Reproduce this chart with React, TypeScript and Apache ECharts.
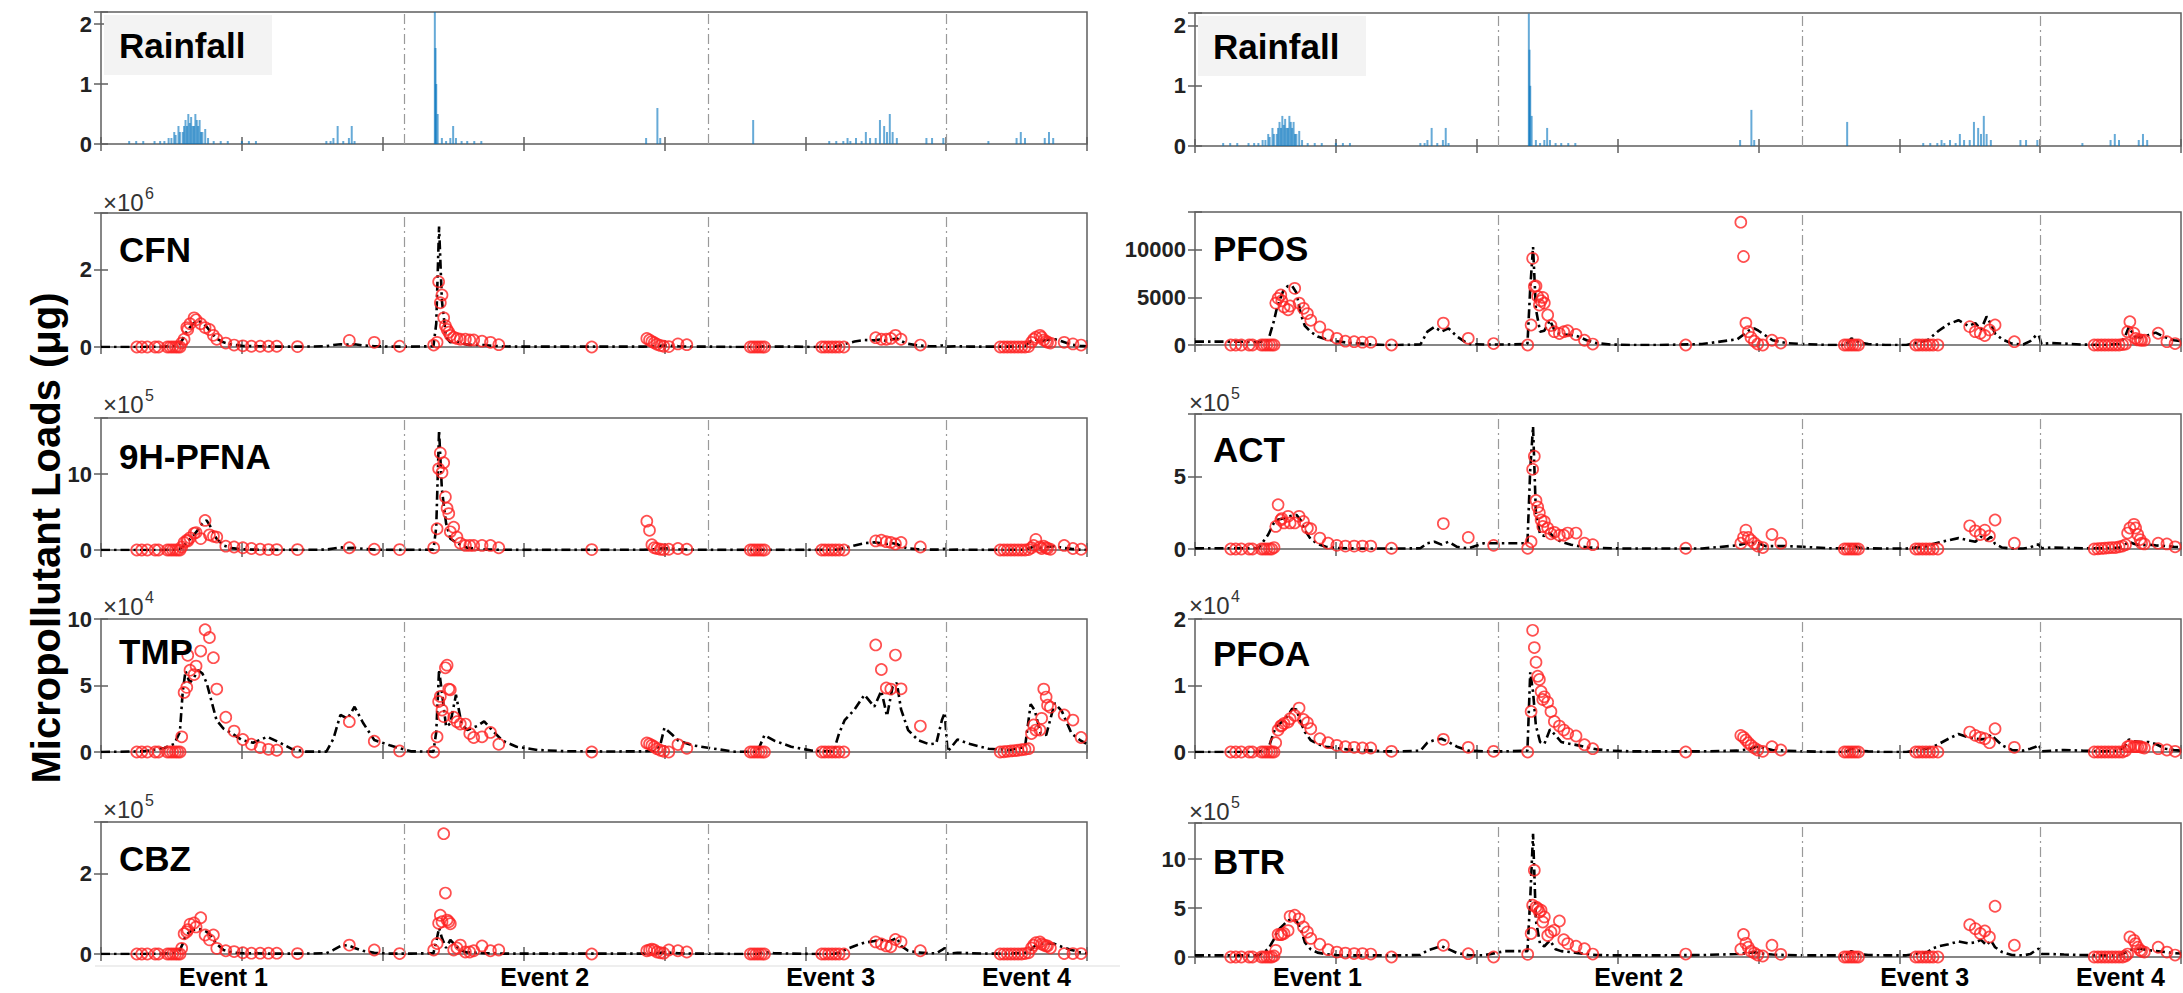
import React, { useEffect, useRef } from 'react';
import * as echarts from 'echarts';

// ---------------- DATA ----------------
const EVENT_LABELS = ['Event 1', 'Event 2', 'Event 3', 'Event 4'];
const EVENT_POS = [0.87, 3.15, 5.18, 6.57];
const EVENT_DIVIDERS = [2.15, 4.31, 6.0];

const RAIN_T = [0.2, 0.25, 0.3, 0.38, 0.42, 0.45, 0.48, 0.5, 0.52, 0.53, 0.55, 0.56, 0.58, 0.59, 0.6, 0.61, 0.62, 0.63, 0.64, 0.65, 0.66, 0.67, 0.68, 0.69, 0.7, 0.71, 0.72, 0.74, 0.76, 0.8, 0.85, 0.9, 1.0, 1.05, 1.1, 1.6, 1.63, 1.65, 1.68, 1.72, 1.76, 1.78, 1.8, 2.37, 2.375, 2.38, 2.39, 2.42, 2.45, 2.48, 2.5, 2.52, 2.56, 2.6, 2.65, 2.7, 3.87, 3.95, 3.97, 4.63, 5.17, 5.22, 5.27, 5.3, 5.32, 5.36, 5.4, 5.43, 5.46, 5.5, 5.53, 5.56, 5.58, 5.6, 5.62, 5.65, 5.86, 5.9, 5.98, 6.3, 6.5, 6.53, 6.56, 6.7, 6.73, 6.76];
const RAIN_V = [0.05, 0.05, 0.05, 0.05, 0.05, 0.05, 0.1, 0.1, 0.2, 0.15, 0.3, 0.2, 0.2, 0.3, 0.4, 0.3, 0.5, 0.35, 0.45, 0.3, 0.3, 0.5, 0.4, 0.3, 0.4, 0.2, 0.2, 0.25, 0.1, 0.05, 0.05, 0.05, 0.05, 0.05, 0.05, 0.05, 0.05, 0.1, 0.3, 0.05, 0.1, 0.3, 0.05, 2.2, 1.6, 1.0, 0.5, 0.1, 0.05, 0.1, 0.3, 0.1, 0.05, 0.05, 0.05, 0.05, 0.1, 0.6, 0.1, 0.4, 0.05, 0.05, 0.05, 0.1, 0.05, 0.1, 0.05, 0.2, 0.1, 0.1, 0.4, 0.3, 0.2, 0.5, 0.2, 0.1, 0.1, 0.1, 0.1, 0.05, 0.1, 0.2, 0.1, 0.1, 0.2, 0.1];

// observation (sample) times, shared by all pollutants
const OBS_T = [
  0.254, 0.289, 0.329, 0.384, 0.408, 0.471, 0.49, 0.509, 0.528, 0.545,
  0.561, 0.573, 0.59, 0.609, 0.616, 0.632, 0.661, 0.675, 0.708, 0.739,
  0.77, 0.798, 0.822, 0.886, 0.945, 1.007, 1.068, 1.13, 1.189, 1.248,
  1.395, 1.763, 1.94, 2.12, 2.362, 2.386, 2.397, 2.409, 2.421, 2.433,
  2.445, 2.457, 2.469, 2.48, 2.504, 2.527, 2.551, 2.587, 2.618, 2.646,
  2.705, 2.765, 2.824, 3.484, 3.875, 3.894, 3.911, 3.928, 3.947, 3.971,
  3.995, 4.031, 4.096, 4.159, 4.61, 4.63, 4.65, 4.67, 4.69, 4.71,
  5.117, 5.14, 5.165, 5.19, 5.215, 5.24, 5.274, 5.5, 5.54, 5.575,
  5.607, 5.64, 5.68, 5.817, 6.384, 6.41, 6.435, 6.46, 6.485, 6.51,
  6.535, 6.56, 6.585, 6.606, 6.621, 6.637, 6.666, 6.678, 6.693, 6.71,
  6.72, 6.74, 6.838, 6.9, 6.958,
];

// model time grid, shared by all pollutants
const MODEL_T = [
  0, 0.3, 0.45, 0.52, 0.56, 0.58, 0.6, 0.63, 0.66, 0.69,
  0.72, 0.75, 0.78, 0.82, 0.87, 0.93, 1.0, 1.08, 1.18, 1.26,
  1.35, 1.45, 1.6, 1.65, 1.7, 1.75, 1.8, 1.86, 1.94, 2.05,
  2.2, 2.36, 2.38, 2.4, 2.42, 2.45, 2.48, 2.52, 2.56, 2.6,
  2.67, 2.72, 2.78, 2.85, 2.95, 3.1, 3.3, 3.6, 3.85, 3.93,
  3.97, 4.0, 4.05, 4.1, 4.2, 4.32, 4.5, 4.62, 4.66, 4.71,
  4.78, 4.9, 5.05, 5.2, 5.24, 5.28, 5.35, 5.42, 5.49, 5.54,
  5.58, 5.62, 5.65, 5.68, 5.73, 5.8, 5.88, 5.93, 5.97, 5.99,
  6.01, 6.08, 6.17, 6.3, 6.45, 6.56, 6.6, 6.63, 6.67, 6.71,
  6.77, 6.82, 6.89, 6.95, 7.0,
];

// CFN (x10^6)
const CFN_OBS = [
  0, 0, 0, 0, 0, 0, 0, 0, 0, 0,
  0, 0.1, 0.2, 0.5, 0.45, 0.6, 0.75, 0.7, 0.6, 0.5,
  0.45, 0.3, 0.2, 0.1, 0.05, 0.03, 0.02, 0.02, 0.02, 0.02,
  0.01, 0.17, 0.12, 0.02, 0.05, 0.12, 1.68, 1.14, 1.34, 0.75,
  0.55, 0.45, 0.38, 0.3, 0.25, 0.22, 0.2, 0.2, 0.18, 0.18,
  0.15, 0.12, 0.06, 0, 0.22, 0.18, 0.14, 0.11, 0.07, 0.04,
  0.02, 0.01, 0.08, 0.06, 0, 0, 0, 0, 0, 0,
  0, 0, 0, 0, 0, 0, 0, 0.24, 0.2, 0.2,
  0.22, 0.3, 0.2, 0.05, 0, 0, 0, 0, 0, 0,
  0, 0, 0.01, 0.12, 0.2, 0.25, 0.3, 0.25, 0.18, 0.15,
  0.12, 0.1, 0.12, 0.08, 0.05,
];
const CFN_MOD = [
  0, 0, 0.01, 0.03, 0.08, 0.2, 0.35, 0.5, 0.62, 0.68,
  0.62, 0.52, 0.38, 0.22, 0.12, 0.06, 0.03, 0.02, 0.02, 0.01,
  0.01, 0.01, 0.02, 0.05, 0.07, 0.06, 0.07, 0.04, 0.02, 0.01,
  0.01, 0.02, 0.6, 3.1, 1.2, 0.25, 0.12, 0.15, 0.1, 0.06,
  0.05, 0.05, 0.03, 0.02, 0.01, 0.01, 0.01, 0.01, 0.01, 0.02,
  0.03, 0.04, 0.03, 0.02, 0.01, 0.01, 0, 0, 0, 0.02,
  0.01, 0.01, 0, 0, 0.03, 0.08, 0.14, 0.18, 0.17, 0.2,
  0.15, 0.2, 0.22, 0.15, 0.08, 0.04, 0.02, 0.02, 0.04, 0.05,
  0.01, 0.02, 0.01, 0.01, 0.01, 0.03, 0.15, 0.2, 0.15, 0.18,
  0.2, 0.15, 0.06, 0.03, 0.02,
];

// 9H-PFNA (x10^5)
const PFNA_OBS = [
  0, 0, 0, 0, 0, 0, 0, 0, 0, 0,
  0, 0.4, 1.0, 1.3, 1.2, 1.6, 2.2, 2.3, 1.5, 3.9,
  2.0, 1.8, 1.7, 0.5, 0.4, 0.3, 0.2, 0.1, 0.05, 0.05,
  0.05, 0.3, 0.1, 0.05, 0.3, 2.8, 10.7, 12.8, 10.2, 11.5,
  7.0, 5.5, 4.8, 2.4, 3.0, 1.7, 0.9, 0.6, 0.6, 0.6,
  0.6, 0.6, 0.3, 0.05, 3.8, 2.6, 0.7, 0.3, 0.2, 0.1,
  0.05, 0.1, 0.2, 0.1, 0, 0, 0, 0, 0, 0,
  0, 0, 0, 0, 0, 0, 0, 1.2, 1.3, 1.1,
  1.0, 0.8, 1.0, 0.4, 0, 0, 0, 0, 0, 0,
  0, 0, 0.05, 0.3, 0.6, 1.4, 0.4, 0.2, 0.5, 0.3,
  0.2, 0.1, 0.6, 0.2, 0.1,
];
const PFNA_MOD = [
  0, 0, 0.01, 0.05, 0.2, 0.4, 0.8, 1.4, 2.0, 2.7,
  3.5, 3.9, 3.0, 1.5, 0.6, 0.25, 0.1, 0.05, 0.03, 0.02,
  0.02, 0.02, 0.05, 0.2, 0.35, 0.25, 0.3, 0.15, 0.05, 0.02,
  0.02, 0.05, 3.0, 15.8, 8.0, 3.5, 1.5, 1.0, 0.6, 0.3,
  0.15, 0.1, 0.05, 0.03, 0.02, 0.02, 0.02, 0.02, 0.03, 0.1,
  0.2, 0.25, 0.15, 0.1, 0.05, 0.02, 0.01, 0.01, 0.01, 0.03,
  0.02, 0.01, 0.01, 0.01, 0.1, 0.3, 0.6, 0.9, 1.0, 0.9,
  0.8, 0.9, 0.8, 0.5, 0.2, 0.1, 0.05, 0.05, 0.1, 0.15,
  0.02, 0.05, 0.03, 0.02, 0.02, 0.05, 0.3, 0.5, 0.3, 0.4,
  0.5, 0.3, 0.15, 0.05, 0.03,
];

// TMP (x10^4)
const TMP_OBS = [
  0, 0, 0, 0, 0, 0, 0, 0, 0, 0,
  0, 1.14, 4.48, 4.86, 7.27, 6.15, 5.82, 6.46, 7.59, 9.19,
  8.61, 7.09, 4.73, 2.61, 1.57, 0.94, 0.58, 0.33, 0.2, 0.13,
  0, 2.28, 0.81, 0.08, 0, 1.14, 3.8, 4.18, 3.16, 2.66,
  6.33, 6.53, 4.73, 4.68, 2.61, 2.28, 2.1, 2.1, 1.39, 1.09,
  1.14, 1.47, 0.58, 0, 0.68, 0.6, 0.5, 0.4, 0.25, 0.13,
  0.05, 0, 0.56, 0.28, 0, 0, 0, 0, 0, 0,
  0, 0, 0, 0, 0, 0, 0, 8.05, 6.2, 4.81,
  4.73, 7.29, 4.75, 1.95, 0, 0.02, 0.05, 0.08, 0.1, 0.13,
  0.17, 0.2, 0.25, 1.39, 2.03, 1.65, 1.65, 2.53, 4.73, 4.13,
  3.52, 3.37, 2.78, 2.4, 1.09,
];
const TMP_MOD = [
  0, 0.05, 0.3, 0.6, 1.5, 4.5, 6.1, 5.2, 5.6, 6.15,
  5.9, 5.2, 4.0, 2.4, 1.75, 1.4, 0.9, 0.7, 1.14, 0.75,
  0.25, 0.03, 0.03, 1.0, 2.8, 2.5, 3.4, 2.2, 0.9, 0.5,
  0.05, 0.03, 1.5, 6.2, 4.5, 1.9, 2.15, 4.3, 2.1, 1.65,
  1.95, 2.3, 1.6, 0.85, 0.4, 0.15, 0.06, 0.04, 0.05, 0.08,
  0.5, 1.82, 1.35, 0.85, 0.5, 0.3, 0.02, 0.02, 0.02, 1.27,
  0.85, 0.4, 0.1, 0.03, 1.4, 2.4, 3.2, 4.3, 3.4, 4.6,
  2.7, 4.9, 5.2, 3.2, 1.65, 0.9, 0.58, 0.65, 2.4, 2.96,
  0.02, 0.94, 0.6, 0.25, 0.15, 0.38, 3.6, 3.1, 1.39, 1.27,
  3.67, 3.1, 1.4, 0.9, 0.6,
];

// CBZ (x10^5)
const CBZ_OBS = [
  0, 0, 0, 0, 0, 0, 0, 0, 0, 0,
  0, 0.14, 0.5, 0.55, 0.6, 0.74, 0.77, 0.67, 0.9, 0.47,
  0.35, 0.47, 0.14, 0.08, 0.06, 0.03, 0.02, 0.02, 0.02, 0.02,
  0.01, 0.22, 0.1, 0.01, 0.1, 0.26, 0.76, 0.96, 0.8, 2.98,
  1.51, 0.84, 0.8, 0.75, 0.1, 0.15, 0.22, 0.05, 0.05, 0.08,
  0.2, 0.08, 0.1, 0, 0.08, 0.1, 0.12, 0.1, 0.05, 0.03,
  0.02, 0.1, 0.08, 0.05, 0, 0, 0, 0, 0, 0,
  0, 0, 0, 0, 0, 0, 0, 0.3, 0.25, 0.2,
  0.18, 0.36, 0.3, 0.08, 0, 0, 0, 0, 0, 0,
  0, 0.01, 0.03, 0.15, 0.22, 0.28, 0.3, 0.25, 0.22, 0.2,
  0.2, 0.15, 0.01, 0.01, 0.01,
];
const CBZ_MOD = [
  0, 0, 0.01, 0.03, 0.1, 0.25, 0.45, 0.55, 0.6, 0.62,
  0.6, 0.55, 0.45, 0.25, 0.1, 0.04, 0.02, 0.02, 0.01, 0.01,
  0.01, 0.01, 0.02, 0.1, 0.2, 0.22, 0.15, 0.08, 0.03, 0.01,
  0.01, 0.02, 0.3, 0.65, 0.4, 0.15, 0.35, 0.2, 0.08, 0.04,
  0.03, 0.02, 0.02, 0.01, 0.01, 0.01, 0.01, 0.01, 0.01, 0.02,
  0.03, 0.04, 0.03, 0.02, 0.01, 0.01, 0, 0, 0, 0.05,
  0.02, 0.01, 0, 0, 0.03, 0.1, 0.2, 0.28, 0.32, 0.35,
  0.3, 0.35, 0.4, 0.2, 0.08, 0.04, 0.02, 0.02, 0.1, 0.15,
  0.01, 0.03, 0.02, 0.01, 0.01, 0.03, 0.1, 0.2, 0.25, 0.27,
  0.25, 0.18, 0.1, 0.04, 0.02,
];

// PFOS
const PFOS_OBS = [
  0, 0, 0, 0, 0, 0, 0, 0, 0, 0,
  0, 4400, 4900, 5250, 4650, 4000, 3700, 4100, 5950, 4400,
  3850, 3300, 2600, 1900, 1050, 700, 400, 350, 300, 300,
  0, 2300, 700, 150, 0, 2100, 9100, 6150, 6200, 5100,
  4200, 4650, 5000, 4400, 3150, 2050, 1400, 1200, 1400, 1500,
  1100, 500, 100, 0, 12900, 9300, 2300, 1400, 800, 400,
  100, 0, 500, 200, 0, 0, 0, 0, 0, 0,
  0, 0, 0, 0, 0, 0, 0, 1930, 1400, 1230,
  1000, 1580, 2100, 350, 0, 0, 0, 0, 0, 0,
  0, 0, 50, 100, 1400, 2450, 1230, 700, 530, 530,
  500, 500, 1230, 350, 150,
];
const PFOS_MOD = [
  350, 350, 300, 500, 2500, 3800, 4700, 5800, 6200, 6200,
  5500, 3300, 2000, 1400, 900, 600, 400, 250, 150, 50,
  0, 0, 50, 1400, 1900, 1400, 1750, 900, 100, 50,
  50, 100, 6000, 10300, 3800, 1400, 1500, 2600, 1300, 1100,
  1050, 900, 500, 200, 50, 0, 0, 100, 600, 1500,
  1750, 1500, 1000, 500, 200, 100, 0, 0, 700, 300,
  100, 0, 0, 500, 1000, 1500, 2200, 2600, 2000, 2300,
  1600, 3000, 2200, 1200, 600, 150, 50, 400, 1000, 1050,
  100, 200, 150, 50, 0, 100, 800, 1900, 900, 800,
  1050, 1300, 800, 500, 400,
];

// ACT (x10^5)
const ACT_OBS = [
  0, 0, 0, 0, 0, 0, 0, 0, 0, 0,
  0.1, 1.56, 3.05, 2.0, 2.1, 1.8, 2.25, 1.8, 1.8, 2.25,
  1.9, 1.45, 1.4, 0.75, 0.4, 0.25, 0.2, 0.2, 0.2, 0.2,
  0.05, 1.75, 0.8, 0.25, 0.05, 0.5, 5.5, 6.4, 3.35, 2.9,
  2.5, 2.0, 1.55, 1.9, 1.45, 1.05, 1.15, 0.95, 0.95, 1.1,
  1.1, 0.4, 0.3, 0.05, 0.4, 0.8, 1.3, 0.8, 0.6, 0.4,
  0.2, 0.1, 1.0, 0.4, 0, 0, 0, 0, 0, 0,
  0, 0, 0, 0, 0, 0, 0, 1.6, 1.25, 1.0,
  1.3, 0.9, 2.0, 0.4, 0, 0.02, 0.04, 0.06, 0.08, 0.1,
  0.1, 0.15, 0.2, 0.3, 1.1, 1.45, 1.7, 1.45, 1.0, 0.65,
  0.4, 0.35, 0.4, 0.35, 0.15,
];
const ACT_MOD = [
  0.05, 0.05, 0.05, 1.0, 1.8, 2.0, 2.05, 2.1, 2.25, 2.3,
  2.35, 2.0, 1.3, 0.7, 0.35, 0.15, 0.08, 0.05, 0.03, 0.03,
  0.03, 0.03, 0.05, 0.4, 0.5, 0.3, 0.5, 0.15, 0.05, 0.4,
  0.4, 0.4, 5.5, 8.45, 2.5, 1.0, 0.9, 1.1, 0.7, 0.5,
  0.3, 0.2, 0.12, 0.08, 0.05, 0.03, 0.03, 0.03, 0.25, 0.45,
  0.4, 0.4, 0.2, 0.2, 0.2, 0.15, 0.05, 0.05, 0.3, 0.1,
  0.05, 0.03, 0.03, 0.2, 0.35, 0.45, 0.6, 0.75, 0.6, 0.5,
  0.85, 0.6, 0.85, 0.35, 0.1, 0.03, 0.03, 0.1, 0.3, 0.3,
  0.05, 0.1, 0.08, 0.05, 0.05, 0.1, 0.3, 0.5, 0.35, 0.25,
  0.3, 0.25, 0.2, 0.15, 0.12,
];

// PFOA (x10^4)
const PFOA_OBS = [
  0, 0, 0, 0, 0, 0, 0, 0, 0, 0,
  0, 0.14, 0.33, 0.39, 0.4, 0.43, 0.45, 0.5, 0.55, 0.66,
  0.49, 0.44, 0.35, 0.2, 0.14, 0.1, 0.08, 0.07, 0.06, 0.06,
  0.01, 0.19, 0.07, 0.01, 0, 0.61, 1.83, 1.57, 1.35, 1.14,
  1.09, 0.91, 0.79, 0.83, 0.75, 0.61, 0.46, 0.39, 0.33, 0.28,
  0.24, 0.11, 0.05, 0, 0.25, 0.22, 0.18, 0.14, 0.1, 0.06,
  0.03, 0.01, 0.08, 0.03, 0, 0, 0, 0, 0, 0,
  0, 0, 0, 0, 0, 0, 0, 0.3, 0.25, 0.22,
  0.2, 0.14, 0.35, 0.07, 0, 0, 0, 0, 0, 0,
  0, 0, 0, 0.02, 0.08, 0.09, 0.08, 0.08, 0.08, 0.08,
  0.07, 0.06, 0.05, 0.03, 0.01,
];
const PFOA_MOD = [
  0, 0, 0, 0.05, 0.3, 0.39, 0.42, 0.48, 0.55, 0.65,
  0.64, 0.45, 0.3, 0.18, 0.12, 0.08, 0.06, 0.04, 0.03, 0.02,
  0.01, 0.01, 0.02, 0.14, 0.18, 0.2, 0.15, 0.08, 0.02, 0.01,
  0.01, 0.02, 1.2, 0.9, 0.4, 0.15, 0.12, 0.34, 0.25, 0.15,
  0.12, 0.1, 0.07, 0.04, 0.02, 0.01, 0.01, 0.01, 0.02, 0.04,
  0.07, 0.085, 0.05, 0.03, 0.02, 0.01, 0, 0, 0.05, 0.02,
  0.01, 0, 0, 0.05, 0.08, 0.12, 0.2, 0.27, 0.22, 0.2,
  0.19, 0.2, 0.26, 0.2, 0.1, 0.03, 0.02, 0.05, 0.08, 0.11,
  0.01, 0.02, 0.03, 0.02, 0.01, 0.02, 0.08, 0.19, 0.16, 0.15,
  0.15, 0.12, 0.05, 0.03, 0.02,
];

// BTR (x10^5)
const BTR_OBS = [
  0, 0, 0, 0, 0, 0, 0, 0, 0, 0,
  0.1, 0.68, 2.3, 2.3, 2.3, 2.4, 2.7, 4.16, 4.27, 3.9,
  3.07, 2.56, 1.9, 1.3, 0.75, 0.5, 0.4, 0.35, 0.35, 0.3,
  0, 1.2, 0.34, 0, 0.27, 2.4, 5.3, 8.87, 5.1, 4.95,
  4.6, 4.78, 3.58, 4.1, 2.2, 2.56, 2.73, 3.68, 1.77, 1.37,
  1.1, 0.85, 0.3, 0.3, 0.8, 2.3, 1.4, 1.0, 0.6, 0.4,
  0.2, 0.1, 1.2, 0.27, 0, 0, 0, 0, 0, 0,
  0, 0, 0, 0, 0, 0, 0, 3.3, 2.9, 2.4,
  2.66, 2.05, 5.19, 1.2, 0, 0, 0, 0, 0, 0,
  0, 0, 0, 0.1, 0.3, 2.05, 1.7, 1.37, 1.0, 0.7,
  0.6, 0.5, 1.0, 0.5, 0.2,
];
const BTR_MOD = [
  0.17, 0.17, 0.17, 0.8, 1.8, 2.5, 2.9, 3.3, 3.75, 3.85,
  3.7, 2.9, 1.5, 0.8, 0.45, 0.3, 0.2, 0.17, 0.17, 0.17,
  0.17, 0.17, 0.2, 0.68, 0.9, 1.1, 0.8, 0.4, 0.2, 0.17,
  0.6, 0.6, 6.0, 12.6, 3.75, 1.3, 1.1, 1.7, 0.8, 0.6,
  0.5, 0.4, 0.3, 0.2, 0.17, 0.17, 0.17, 0.2, 0.3, 0.4,
  0.5, 0.4, 0.3, 0.25, 0.2, 0.17, 0.17, 0.17, 0.6, 0.3,
  0.2, 0.17, 0.17, 0.5, 0.9, 1.1, 1.3, 1.6, 1.4, 1.5,
  1.75, 1.2, 1.7, 1.0, 0.5, 0.2, 0.17, 0.3, 0.7, 0.85,
  0.3, 0.3, 0.25, 0.2, 0.17, 0.2, 0.4, 0.68, 0.8, 0.85,
  0.7, 0.6, 0.5, 0.4, 0.35,
];

// ---------------- LAYOUT ----------------
const FONT = '"Liberation Sans", Arial, Helvetica, sans-serif';
const COLS = [
  { left: 101, width: 986 },
  { left: 1195, width: 986 },
];

type Panel = {
  label: string; col: number; top: number; height: number; max: number; interval: number;
  exp?: string; obs?: number[]; mod?: number[]; rain?: boolean; labelY: number; expY?: number;
};

const PANELS: Panel[] = [
  { label: 'Rainfall', col: 0, top: 12, height: 132, max: 2.2, interval: 1, rain: true, labelY: 45 },
  { label: 'CFN', col: 0, top: 213, height: 134, max: 3.45, interval: 2, exp: '6', obs: CFN_OBS, mod: CFN_MOD, labelY: 249, expY: 202 },
  { label: '9H-PFNA', col: 0, top: 418, height: 132, max: 17.4, interval: 10, exp: '5', obs: PFNA_OBS, mod: PFNA_MOD, labelY: 456, expY: 404 },
  { label: 'TMP', col: 0, top: 619, height: 133, max: 10, interval: 5, exp: '4', obs: TMP_OBS, mod: TMP_MOD, labelY: 651, expY: 606 },
  { label: 'CBZ', col: 0, top: 822, height: 132, max: 3.27, interval: 2, exp: '5', obs: CBZ_OBS, mod: CBZ_MOD, labelY: 858, expY: 809 },
  { label: 'Rainfall', col: 1, top: 13, height: 133, max: 2.21, interval: 1, rain: true, labelY: 46 },
  { label: 'PFOS', col: 1, top: 212, height: 133, max: 13970, interval: 5000, obs: PFOS_OBS, mod: PFOS_MOD, labelY: 248 },
  { label: 'ACT', col: 1, top: 414, height: 135, max: 9.31, interval: 5, exp: '5', obs: ACT_OBS, mod: ACT_MOD, labelY: 449, expY: 402 },
  { label: 'PFOA', col: 1, top: 619, height: 133, max: 2, interval: 1, exp: '4', obs: PFOA_OBS, mod: PFOA_MOD, labelY: 653, expY: 605 },
  { label: 'BTR', col: 1, top: 823, height: 134, max: 13.7, interval: 5, exp: '5', obs: BTR_OBS, mod: BTR_MOD, labelY: 861, expY: 811 },
];

const zip = (xs: number[], ys: number[]) => {
  const n = Math.min(xs.length, ys.length);
  const out: number[][] = [];
  for (let i = 0; i < n; i++) out.push([xs[i], ys[i]]);
  return out;
};

const AXIS_COLOR = '#5f5f5f';

function buildOption() {
  const grid: any[] = [];
  const xAxis: any[] = [];
  const yAxis: any[] = [];
  const series: any[] = [];

  PANELS.forEach((p, i) => {
    const c = COLS[p.col];
    grid.push({ left: c.left, top: p.top, width: c.width, height: p.height, show: true, borderColor: AXIS_COLOR, borderWidth: 1.5, backgroundColor: 'transparent' });
    ['bottom', 'top'].forEach((pos) => {
      xAxis.push({
        type: 'value', gridIndex: i, position: pos, min: 0, max: 7, interval: 1,
        axisLine: { show: false }, axisLabel: { show: false }, splitLine: { show: false },
        axisTick: { show: true, inside: true, length: 7, lineStyle: { color: AXIS_COLOR, width: 1.5 } },
      });
    });
    const fmt = (v: number) => {
      const r = v / p.interval;
      return Math.abs(r - Math.round(r)) < 1e-6 ? String(v) : '';
    };
    ['left', 'right'].forEach((pos) => {
      yAxis.push({
        type: 'value', gridIndex: i, position: pos, min: 0, max: p.max, interval: p.interval,
        axisLine: { show: false }, splitLine: { show: false },
        axisTick: { show: true, inside: true, length: 7, lineStyle: { color: AXIS_COLOR, width: 1.5 } },
        axisLabel: pos === 'left'
          ? { show: true, formatter: fmt, fontFamily: FONT, fontWeight: 'bold', fontSize: 22, color: '#222', margin: 9 }
          : { show: false },
      });
    });
    const markLine = {
      silent: true, symbol: ['none', 'none'], label: { show: false }, animation: false,
      lineStyle: { color: '#9a9a9a', width: 1.2, type: [10, 4, 2, 4] },
      data: EVENT_DIVIDERS.map((x) => ({ xAxis: x })),
    };
    const xi = i * 2;
    const yi = i * 2;
    if (p.rain) {
      series.push({
        type: 'bar', xAxisIndex: xi, yAxisIndex: yi, data: zip(RAIN_T, RAIN_V), barWidth: 2,
        itemStyle: { color: 'rgba(0,114,189,0.6)' }, markLine,
      });
    } else {
      series.push({
        type: 'line', xAxisIndex: xi, yAxisIndex: yi, data: zip(MODEL_T, p.mod as number[]),
        showSymbol: false, symbol: 'none', z: 2,
        lineStyle: { color: '#000', width: 2.6, type: [9, 4, 2.5, 4] }, markLine,
      });
      series.push({
        type: 'scatter', xAxisIndex: xi, yAxisIndex: yi, data: zip(OBS_T, p.obs as number[]),
        symbol: 'circle', symbolSize: 11, z: 3,
        itemStyle: { color: 'rgba(255,255,255,0)', borderColor: '#ff2424', borderWidth: 1.7 },
      });
    }
  });

  return {
    animation: false,
    backgroundColor: '#fff',
    textStyle: { fontFamily: FONT },
    grid, xAxis, yAxis, series,
  };
}

export default function App() {
  const ref = useRef<HTMLDivElement>(null);
  useEffect(() => {
    document.body.style.margin = '0';
    if (!ref.current) return;
    const chart = echarts.init(ref.current, undefined, { renderer: 'svg' });
    chart.setOption(buildOption());

    const graphic: any[] = [];
    PANELS.forEach((p) => {
      const c = COLS[p.col];
      if (p.rain) {
        graphic.push({ type: 'rect', shape: { x: c.left + 3, y: p.top + 3, width: 168, height: 60 }, style: { fill: '#f3f3f3' }, z: 10 });
      }
      graphic.push({
        type: 'text', x: c.left + 18, y: p.labelY, z: 11,
        style: { text: p.label, font: `bold 35px ${FONT}`, fill: '#000', textVerticalAlign: 'middle' },
      });
      if (p.exp && p.expY != null) {
        const ex = p.col === 0 ? c.left + 2 : c.left - 6;
        graphic.push({ type: 'text', x: ex, y: p.expY, z: 11, style: { text: '×10', font: `24px ${FONT}`, fill: '#333', textVerticalAlign: 'middle' } });
        graphic.push({ type: 'text', x: ex + 42, y: p.expY - 9, z: 11, style: { text: p.exp, font: `16px ${FONT}`, fill: '#333', textVerticalAlign: 'middle' } });
      }
    });
    // event labels under the bottom panels
    [4, 9].forEach((pi) => {
      EVENT_POS.forEach((v, j) => {
        const px = chart.convertToPixel({ xAxisIndex: pi * 2 }, v) as number;
        graphic.push({
          type: 'text', x: px, y: 977, z: 11,
          style: { text: EVENT_LABELS[j], font: `bold 25px ${FONT}`, fill: '#000', textAlign: 'center', textVerticalAlign: 'middle' },
        });
      });
    });
    graphic.push({ type: 'line', shape: { x1: 95, y1: 966, x2: 1120, y2: 966 }, style: { stroke: '#dddddd', lineWidth: 1 }, z: 1 });
    graphic.push({
      type: 'text', x: 46, y: 538, rotation: Math.PI / 2, z: 11,
      style: { text: 'Micropollutant Loads (μg)', font: `bold 40px ${FONT}`, fill: '#000', textAlign: 'center', textVerticalAlign: 'middle' },
    });
    chart.setOption({ graphic });

    return () => chart.dispose();
  }, []);
  return <div ref={ref} style={{ width: 2183, height: 993 }} />;
}
